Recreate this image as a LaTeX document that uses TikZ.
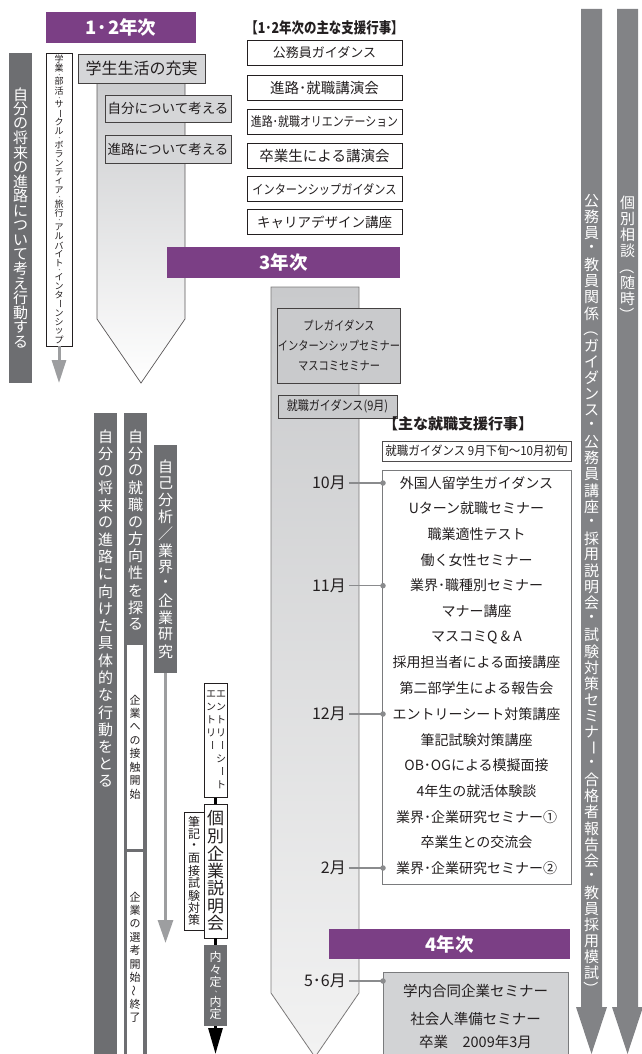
\documentclass[tikz,border=0pt]{standalone}
\usepackage{fontspec}
\setmainfont{Noto Sans CJK JP}
\usepackage{graphicx}
\usetikzlibrary{arrows.meta}
\definecolor{purp}{HTML}{7B3F85}
\definecolor{dbar}{HTML}{6D6E71}
\definecolor{rarr}{HTML}{828386}
\definecolor{larr}{HTML}{9D9EA0}
\definecolor{boxg}{HTML}{D5D6D8}
\definecolor{boxgb}{HTML}{C9CACC}
\definecolor{boxgc}{HTML}{D2D3D5}
\definecolor{ink}{HTML}{231F20}
\definecolor{mline}{HTML}{8A8B8D}
\definecolor{lframe}{HTML}{7A7B7D}
\ExplSyntaxOn
\dim_new:N \l__vt_p_dim
\cs_new_protected:Npn \__vt_cell:nn #1#2
  { \hbox_to_wd:nn {1em} { \hss \vbox_to_ht:nn {#1} { \vss \hbox:n {#2} \vss } \hss } }
\cs_new_protected:Npn \__vt_char:n #1
  {
    \str_case:nnF {#1}
      {
        {ー}{ \__vt_cell:nn {\l__vt_p_dim} { \rotatebox[origin=c]{-90}{ー} } }
        {〜}{ \__vt_cell:nn {\l__vt_p_dim} { \rotatebox[origin=c]{90}{〜} } }
        {（}{ \__vt_cell:nn {\l__vt_p_dim} { \rotatebox[origin=c]{-90}{（} } }
        {）}{ \__vt_cell:nn {\l__vt_p_dim} { \rotatebox[origin=c]{-90}{）} } }
        {、}{ \__vt_cell:nn {0.55\l__vt_p_dim} { \kern0.45em \raisebox{-0.05em}[0pt][0pt]{\scalebox{0.55}{、}} \kern0.0em } }
      }
      { \__vt_cell:nn {\l__vt_p_dim} {#1} }
  }
\NewDocumentCommand \vt { m m }
  {
    \dim_set:Nn \l__vt_p_dim {#1}
    \vbox:n { \offinterlineskip \tl_map_function:nN {#2} \__vt_char:n }
  }
\ExplSyntaxOff
\newcommand\fsz[1]{\fontsize{#1}{#1}\selectfont}
\newcommand\cond[2]{\scalebox{#1}[1]{#2}}
\tikzset{
  banner/.style={fill=purp,text=white,font=\bfseries\fsz{18.5},inner sep=0},
  wbox/.style={draw=ink,line width=0.7pt,fill=white,inner sep=0,text=ink},
  gbox/.style={draw=ink!85,line width=0.7pt,fill=boxg,inner sep=0,text=ink},
  vbar/.style={fill=dbar,inner sep=0,text=white},
  vtxt/.style={inner sep=0,text=white},
  item/.style={font=\fsz{14},text=ink,inner sep=0},
  month/.style={font=\fsz{16},text=ink,anchor=east,inner sep=0},
  conn/.style={draw=mline,line width=1.4pt},
  dot/.style={circle,fill=mline,inner sep=0,minimum size=5.5pt},
  garrow/.style={draw=larr,line width=3pt,-{Triangle[length=23pt,width=14pt]}},
  barrow/.style={draw=black,line width=3pt},
}
\begin{document}
\begin{tikzpicture}[x=1pt,y=-1pt]
\useasboundingbox (0,0) rectangle (641,1054);

% right long arrows
\fill[rarr] (581,9) -- (602,9) -- (602,1007) -- (607,1007) -- (591.5,1054) -- (576,1007) -- (581,1007) -- cycle;
\fill[rarr] (617,9) -- (638,9) -- (638,1007) -- (643,1007) -- (627.5,1054) -- (612,1007) -- (617,1007) -- cycle;
\node[vtxt,font=\fsz{15}] (ta1) at (591.5,595) {\vt{1.073em}{公務員・教員関係（ガイダンス・公務員講座・採用説明会・試験対策セミナー・合格者報告会・教員採用模試）}};
\node[vtxt,font=\fsz{15}] (ta2) at (627.5,259) {\vt{1.073em}{個別相談（随時）}};

% first big arrow (1-2 years)
\shade[top color=boxgb,bottom color=white] (97,70) -- (185,70) -- (185,319) -- (141,383) -- (97,319) -- cycle;
\draw[ink!75,line width=0.7pt] (97,70) -- (97,319) -- (141,383) -- (185,319) -- (185,70);

% second big arrow (3-4 years)
\shade[top color=boxgb,bottom color=white!95!black] (271,287) -- (359,287) -- (359,993) -- (315,1057) -- (271,993) -- cycle;
\draw[ink!60,line width=0.8pt] (271,287) -- (359,287) -- (359,993) -- (315,1057) -- (271,993) -- cycle;

% banners
\node[banner,minimum width=150pt,minimum height=31pt] (b12) at (121,27.5) {1·2年次};
\node[banner,minimum width=233pt,minimum height=31pt] (b3) at (283.5,262.5) {3年次};

% left side (1-2 years)
\node[vbar,minimum width=23pt,minimum height=330pt,font=\fsz{15}] (barA) at (20.5,218) {\vt{0.97em}{自分の将来の進路について考え行動する}};
\node[wbox,minimum width=26pt,minimum height=293pt,font=\fsz{9}] (boxB) at (59,199.5) {\vt{1em}{学業、部活、サークル、ボランティア、旅行、アルバイト、インターンシップ}};
\coordinate (tipB) at (59,383);
\draw[garrow] (boxB.south) -- (tipB);

\node[gbox,minimum width=127pt,minimum height=29pt,font=\fsz{16}] (jujitsu) at (141.5,68.5) {学生生活の充実};
\node[gbox,minimum width=126pt,minimum height=27pt,font=\fsz{13.5}] (jibun) at (168,108.5) {自分について考える};
\node[gbox,minimum width=126pt,minimum height=28pt,font=\fsz{13.5}] (shinro) at (168,149) {進路について考える};

% 1-2 year events
\node[font=\bfseries\fsz{15},text=ink,inner sep=0] (h12) at (324.5,28) {\cond{0.83}{【1･2年次の主な支援行事】}};
\node[wbox,minimum width=155pt,minimum height=25pt,font=\fsz{13}] (e1) at (324.5,53) {公務員ガイダンス};
\node[wbox,minimum width=155pt,minimum height=25pt,font=\fsz{14.5}] (e2) at (324.5,88) {進路･就職講演会};
\node[wbox,minimum width=155pt,minimum height=25pt,font=\fsz{13}] (e3) at (324.5,122) {\cond{0.84}{進路･就職オリエンテーション}};
\node[wbox,minimum width=155pt,minimum height=25pt,font=\fsz{14.5}] (e4) at (324.5,156) {卒業生による講演会};
\node[wbox,minimum width=155pt,minimum height=25pt,font=\fsz{13}] (e5) at (324.5,189) {\cond{0.86}{インターンシップガイダンス}};
\node[wbox,minimum width=155pt,minimum height=25pt,font=\fsz{13.5}] (e6) at (324.5,222) {キャリアデザイン講座};

% 3rd year boxes in big arrow
\node[gbox,fill=boxgb,minimum width=122pt,minimum height=75pt,align=center,font=\fontsize{12.5}{20}\selectfont] (pre) at (339,345.5) {\cond{0.82}{プレガイダンス}\\\cond{0.82}{インターンシップセミナー}\\\cond{0.82}{マスコミセミナー}};
\node[gbox,fill=boxgb,minimum width=119pt,minimum height=23pt,font=\fsz{13}] (guid9) at (337.5,406.5) {\cond{0.85}{就職ガイダンス(9月)}};

% main events list
\node[font=\bfseries\fsz{15},text=ink,inner sep=0] (h3) at (458,424) {【主な就職支援行事】};
\node[wbox,draw=ink!80,minimum width=189pt,minimum height=20pt,font=\fsz{12.5}] (guidrange) at (476.5,451) {\cond{0.92}{就職ガイダンス 9月下旬〜10月初旬}};
\node[draw=lframe,line width=1.1pt,fill=white,minimum width=189pt,minimum height=414pt,anchor=north west,inner sep=0] (listbox) at (382,470) {};
\node[item] (i1) at (476.5,483) {外国人留学生ガイダンス};
\node[item] (i2) at (476.5,508.67) {Uターン就職セミナー};
\node[item] (i3) at (476.5,534.33) {職業適性テスト};
\node[item] (i4) at (476.5,560) {働く女性セミナー};
\node[item] (i5) at (476.5,585.67) {業界･職種別セミナー};
\node[item] (i6) at (476.5,611.33) {マナー講座};
\node[item] (i7) at (476.5,637) {マスコミQ \& A};
\node[item] (i8) at (476.5,662.67) {採用担当者による面接講座};
\node[item] (i9) at (476.5,688.33) {第二部学生による報告会};
\node[item] (i10) at (476.5,714) {エントリーシート対策講座};
\node[item] (i11) at (476.5,739.67) {筆記試験対策講座};
\node[item] (i12) at (476.5,765.33) {OB･OGによる模擬面接};
\node[item] (i13) at (476.5,791) {4年生の就活体験談};
\node[item] (i14) at (476.5,816.67) {業界･企業研究セミナー①};
\node[item] (i15) at (476.5,842.33) {卒業生との交流会};
\node[item] (i16) at (476.5,868) {業界･企業研究セミナー②};

% 4th year
\node[banner,minimum width=241pt,minimum height=30pt] (b4) at (449.5,944) {4年次};
\node[draw=lframe,line width=1.1pt,fill=boxgc,minimum width=185pt,minimum height=92pt,anchor=north west,inner sep=0] (final) at (383,972) {};
\node[item,font=\fsz{14.5}] (f1) at (475.5,991) {学内合同企業セミナー};
\node[item,font=\fsz{14.5}] (f2) at (475.5,1019) {社会人準備セミナー};
\node[item,font=\fsz{14.5}] (f3) at (475.5,1042) {卒業　2009年3月};

% months and connectors
\node[dot] (d10) at (383,483) {};
\node[dot] (d11) at (383,585.67) {};
\node[dot] (d12) at (383,714) {};
\node[dot] (d2) at (383,868) {};
\node[dot] (d56) at (383,981) {};
\node[month] (m10) at (346,483) {10月};
\node[month] (m11) at (346,585.67) {11月};
\node[month] (m12) at (346,714) {12月};
\node[month] (m2) at (346,868) {2月};
\node[month] (m56) at (346,981) {5･6月};
\draw[conn,shorten <=3pt] (m10.east) -- (d10.center);
\draw[conn,shorten <=3pt] (m11.east) -- (d11.center);
\draw[conn,shorten <=3pt] (m12.east) -- (d12.center);
\draw[conn,shorten <=3pt] (m2.east) -- (d2.center);
\draw[conn,shorten <=3pt] (m56.east) -- (d56.center);

% lower left columns
\node[vbar,minimum width=23pt,minimum height=650pt,anchor=north] (barC) at (105.5,413) {};
\node[vtxt,font=\fsz{15}] (tC) at (105.5,609) {\vt{1.15em}{自分の将来の進路に向けた具体的な行動をとる}};
\node[vbar,minimum width=23pt,minimum height=650pt,anchor=north] (barD) at (135.5,413) {};
\node[vtxt,font=\fsz{15}] (tD) at (135.5,530.5) {\vt{1.14em}{自分の就職の方向性を探る}};
\node[fill=white,inner sep=0,minimum width=16pt,minimum height=204pt,text=ink,font=\fsz{11}] (s1) at (135,747) {\vt{1.22em}{企業への接触開始}};
\node[fill=white,inner sep=0,minimum width=16pt,minimum height=211pt,text=ink,font=\fsz{11}] (s2) at (135,957.5) {\vt{1.22em}{企業の選考開始〜終了}};
\node[vbar,minimum width=23pt,minimum height=228pt,font=\fsz{15}] (barE) at (165.5,559) {\vt{1.12em}{自己分析／業界・企業研究}};
\coordinate (tipE) at (165.5,943);
\draw[garrow,-{Triangle[length=23pt,width=15pt]}] (barE.south) -- (tipE);

% entry flow
\node[wbox,minimum width=23pt,minimum height=114pt,anchor=north] (entry) at (215.5,683) {};
\node[vtxt,text=ink,font=\fsz{10},anchor=north] (entR) at (221,687) {\vt{1.3em}{エントリーシート}};
\node[vtxt,text=ink,font=\fsz{10},anchor=north] (entL) at (211,687) {\vt{1.3em}{エントリー}};
\node[wbox,minimum width=23pt,minimum height=134pt,font=\fsz{17}] (kobetsu) at (215.5,871) {\vt{1.03em}{個別企業説明会}};
\node[wbox,minimum width=20pt,minimum height=118pt,font=\fsz{12}] (hikki) at (194,871) {\vt{1.02em}{筆記・面接試験対策}};
\node[vbar,minimum width=23pt,minimum height=81pt,font=\fsz{12}] (naitei) at (215.5,985.5) {\vt{1.05em}{内々定、内定}};
\coordinate (tipN) at (215.5,1054);
\draw[barrow] (entry.south) -- (kobetsu.north);
\draw[barrow] (kobetsu.south) -- (naitei.north);
\draw[barrow,-{Triangle[length=26pt,width=14pt]}] (naitei.south) -- (tipN);
\end{tikzpicture}
\end{document}
